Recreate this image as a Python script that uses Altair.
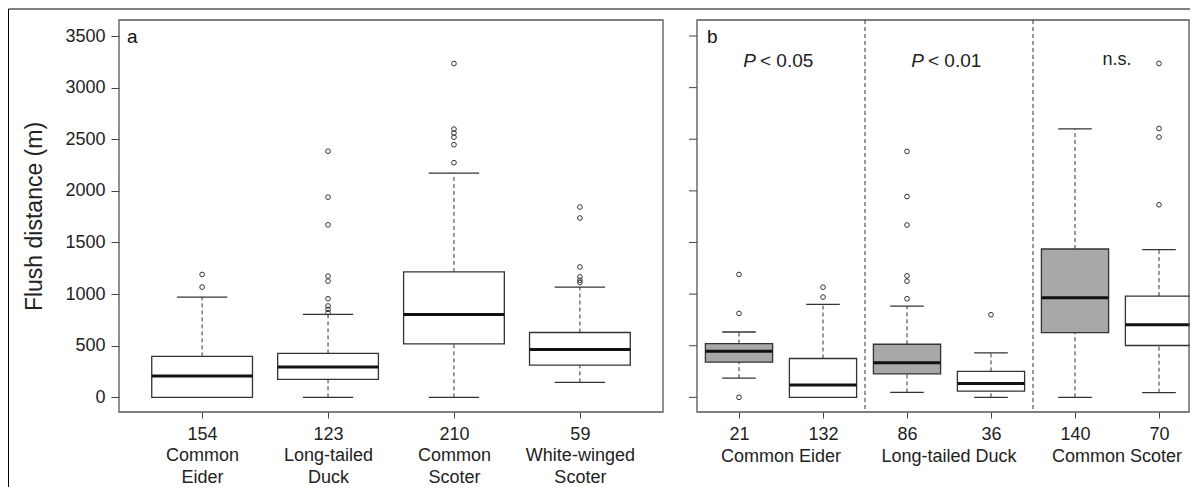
import altair as alt
import pandas as pd

# ---------------- Panel a data ----------------
a_labels = [["154", "Common", "Eider"], ["123", "Long-tailed", "Duck"],
            ["210", "Common", "Scoter"], ["59", "White-winged", "Scoter"]]
a_pos = [1, 2, 3, 4]
a_low = [0, 0, 0, 145]
a_q1 = [0, 174, 518, 312]
a_med = [206, 294, 803, 464]
a_q3 = [397, 426, 1215, 628]
a_up = [971, 803, 2172, 1067]
a_out = [[1068, 1190],
         [820, 852, 885, 955, 1126, 1174, 1671, 1939, 2384],
         [2273, 2447, 2520, 2560, 2598, 3233],
         [1112, 1134, 1167, 1263, 1737, 1843]]
a_fill = ["white", "white", "white", "white"]

# ---------------- Panel b data ----------------
b_groups = ["Common Eider", "Long-tailed Duck", "Common Scoter"]
b_tests = ["< 0.05", "< 0.01", "n.s."]
b_n = ["21", "132", "86", "36", "140", "70"]
b_pos = [11, 12, 13, 14, 15, 16]          # panel b slots (offset by 10)
b_low = [186, 0, 48, 0, 0, 45]
b_q1 = [341, 0, 228, 61, 627, 502]
b_med = [447, 119, 334, 135, 965, 704]
b_q3 = [521, 376, 514, 251, 1437, 981]
b_up = [633, 900, 884, 431, 2601, 1431]
b_out = [[0, 813, 1190], [971, 1067],
         [955, 1125, 1177, 1669, 1945, 2382], [800], [],
         [1865, 2521, 2604, 3234]]
b_fill = ["#a8a8a8", "white", "#a8a8a8", "white", "#a8a8a8", "white"]

FONT = "Liberation Sans"
YTICKS = [0, 500, 1000, 1500, 2000, 2500, 3000, 3500]
YDOM = [-142, 3655]
W, H = 1070, 392
A_LIM = [0.34, 4.66]
B_LIM = [10.5, 10.5 + (W - 578) / 84.0]

# ---------------- tables ----------------
box = pd.DataFrame({
    "pos": a_pos + b_pos, "low": a_low + b_low, "q1": a_q1 + b_q1,
    "med": a_med + b_med, "q3": a_q3 + b_q3, "up": a_up + b_up,
    "fill": a_fill + b_fill})
box["xl"] = box["pos"] - 0.4
box["xr"] = box["pos"] + 0.4
box["cl"] = box["pos"] - 0.2
box["cr"] = box["pos"] + 0.2

outs = pd.DataFrame([{"pos": p, "v": v}
                     for p, vals in zip(a_pos + b_pos, a_out + b_out) for v in vals])

frames = pd.DataFrame({"x1": [A_LIM[0], B_LIM[0]], "x2": [A_LIM[1], B_LIM[1]],
                       "y1": [YDOM[0]] * 2, "y2": [YDOM[1]] * 2})
groups = pd.DataFrame({"g": b_groups, "test": b_tests,
                       "c": [(b_pos[2 * i] + b_pos[2 * i + 1]) / 2 for i in range(3)]})
seps = pd.DataFrame({"s": [(b_pos[2 * i + 1] + b_pos[2 * i + 2]) / 2 for i in range(2)]})
bticks = pd.DataFrame({"v": YTICKS, "bx": [B_LIM[0]] * len(YTICKS)})
one = pd.DataFrame({"k": [0]})

# ---------------- scales / axes ----------------
xscale = alt.Scale(domain=[A_LIM[0], A_LIM[1], B_LIM[0], B_LIM[1]],
                   range=[0, 544, 578, W], nice=False, zero=False)
yscale = alt.Scale(domain=YDOM, nice=False, zero=False)
YT = "Flush distance (m)"

lab = [""] * 17
for p, l in zip(a_pos, a_labels):
    lab[p] = "[" + ",".join("'%s'" % s for s in l) + "]"
for p, n in zip(b_pos, b_n):
    lab[p] = "'%s'" % n
lab = ["''" if s == "" else s for s in lab]
label_expr = "[" + ",".join(lab) + "][datum.value]"

xaxis = alt.Axis(values=a_pos + b_pos, labelExpr=label_expr, tickSize=6, labelPadding=7,
                 labelLineHeight=21.5, labelOverlap=False, grid=False, domain=False,
                 labelFontSize=18)
yaxis = alt.Axis(values=YTICKS, format="d", tickSize=8, labelPadding=6, grid=False,
                 domain=False, titleFontSize=23, titleFontWeight="normal", titlePadding=18,
                 titleFont=FONT, titleColor="#222", labelFontSize=18)


def X(f, **k):
    return alt.X(f, type="quantitative", scale=xscale, title=None, **k)


def Y(f, **k):
    return alt.Y(f, type="quantitative", scale=yscale, title=YT, **k)


base = alt.Chart(box)
whisk_hi = base.mark_rule(color="#333", strokeWidth=1, strokeDash=[4, 3]).encode(
    x=X("pos", axis=xaxis), y=Y("q3", axis=yaxis), y2="up")
whisk_lo = base.mark_rule(color="#333", strokeWidth=1, strokeDash=[4, 3]).encode(
    x=X("pos"), y=Y("low"), y2="q1")
cap_hi = base.mark_rule(color="#333", strokeWidth=1.3).encode(x=X("cl"), x2="cr", y=Y("up"))
cap_lo = base.mark_rule(color="#333", strokeWidth=1.3).encode(x=X("cl"), x2="cr", y=Y("low"))
rect = base.mark_rect(stroke="#333", strokeWidth=1.3).encode(
    x=X("xl"), x2="xr", y=Y("q1"), y2="q3", fill=alt.Fill("fill:N", scale=None))
med = base.mark_rule(color="#111", strokeWidth=3).encode(x=X("xl"), x2="xr", y=Y("med"))
pts = alt.Chart(outs).mark_point(shape="circle", filled=False, size=22, color="#333",
                                 strokeWidth=1, opacity=1).encode(x=X("pos"), y=Y("v"))

frame = alt.Chart(frames).mark_rect(fillOpacity=0, stroke="#555", strokeWidth=1.3).encode(
    x=X("x1"), x2="x2", y=Y("y1"), y2="y2")
btick = alt.Chart(bticks).mark_rule(color="#444", strokeWidth=1, xOffset=-8).encode(
    x=X("bx"), x2="bx", y=Y("v"))
sep = alt.Chart(seps).mark_rule(color="#333", strokeWidth=1, strokeDash=[4, 3]).encode(
    x=X("s"), y=alt.value(0), y2=alt.value(H))

glab = alt.Chart(groups).mark_text(fontSize=18, font=FONT, color="#222",
                                   baseline="alphabetic").encode(
    x=X("c"), y=alt.value(442), text="g:N")
ptxt = groups[groups["test"] != "n.s."]
nstxt = groups[groups["test"] == "n.s."]
p_it = alt.Chart(ptxt).mark_text(text="P", fontStyle="italic", fontSize=19, font=FONT,
                                 color="#222", align="right", baseline="alphabetic",
                                 dx=-25).encode(x=X("c"), y=alt.value(46.5))
p_rest = alt.Chart(ptxt).mark_text(fontSize=19, font=FONT, color="#222", align="left",
                                   baseline="alphabetic", dx=-21).encode(
    x=X("c"), y=alt.value(46.5), text="test:N")
ns = alt.Chart(nstxt).mark_text(fontSize=18, font=FONT, color="#222", align="center",
                                baseline="alphabetic").encode(
    x=X("c"), y=alt.value(44.5), text="test:N")

tag_a = alt.Chart(one).mark_text(text="a", fontSize=19, font=FONT, color="#111",
                                 align="left", baseline="alphabetic").encode(
    x=alt.value(8), y=alt.value(23))
tag_b = alt.Chart(one).mark_text(text="b", fontSize=19, font=FONT, color="#111",
                                 align="left", baseline="alphabetic").encode(
    x=alt.value(588), y=alt.value(23))
border_top = alt.Chart(one).mark_rule(color="black", strokeWidth=1).encode(
    x=alt.value(-110.5), x2=alt.value(W + 1), y=alt.value(-11))
border_left = alt.Chart(one).mark_rule(color="black", strokeWidth=1).encode(
    x=alt.value(-110.5), y=alt.value(-11), y2=alt.value(470))

chart = alt.layer(
    whisk_hi, whisk_lo, cap_hi, cap_lo, rect, med, pts, sep, frame, btick,
    glab, p_it, p_rest, ns, tag_a, tag_b, border_top, border_left
).properties(
    width=W, height=H,
    autosize=alt.AutoSizeParams(type="none"),
    padding={"left": 111, "top": 12, "right": 1, "bottom": 75}
).configure_view(stroke=None).configure_axis(
    labelFont=FONT, labelColor="#222", tickColor="#444", tickWidth=1, titleFont=FONT
)

chart.save("out.html", embed_options={"renderer": "svg", "actions": False})
